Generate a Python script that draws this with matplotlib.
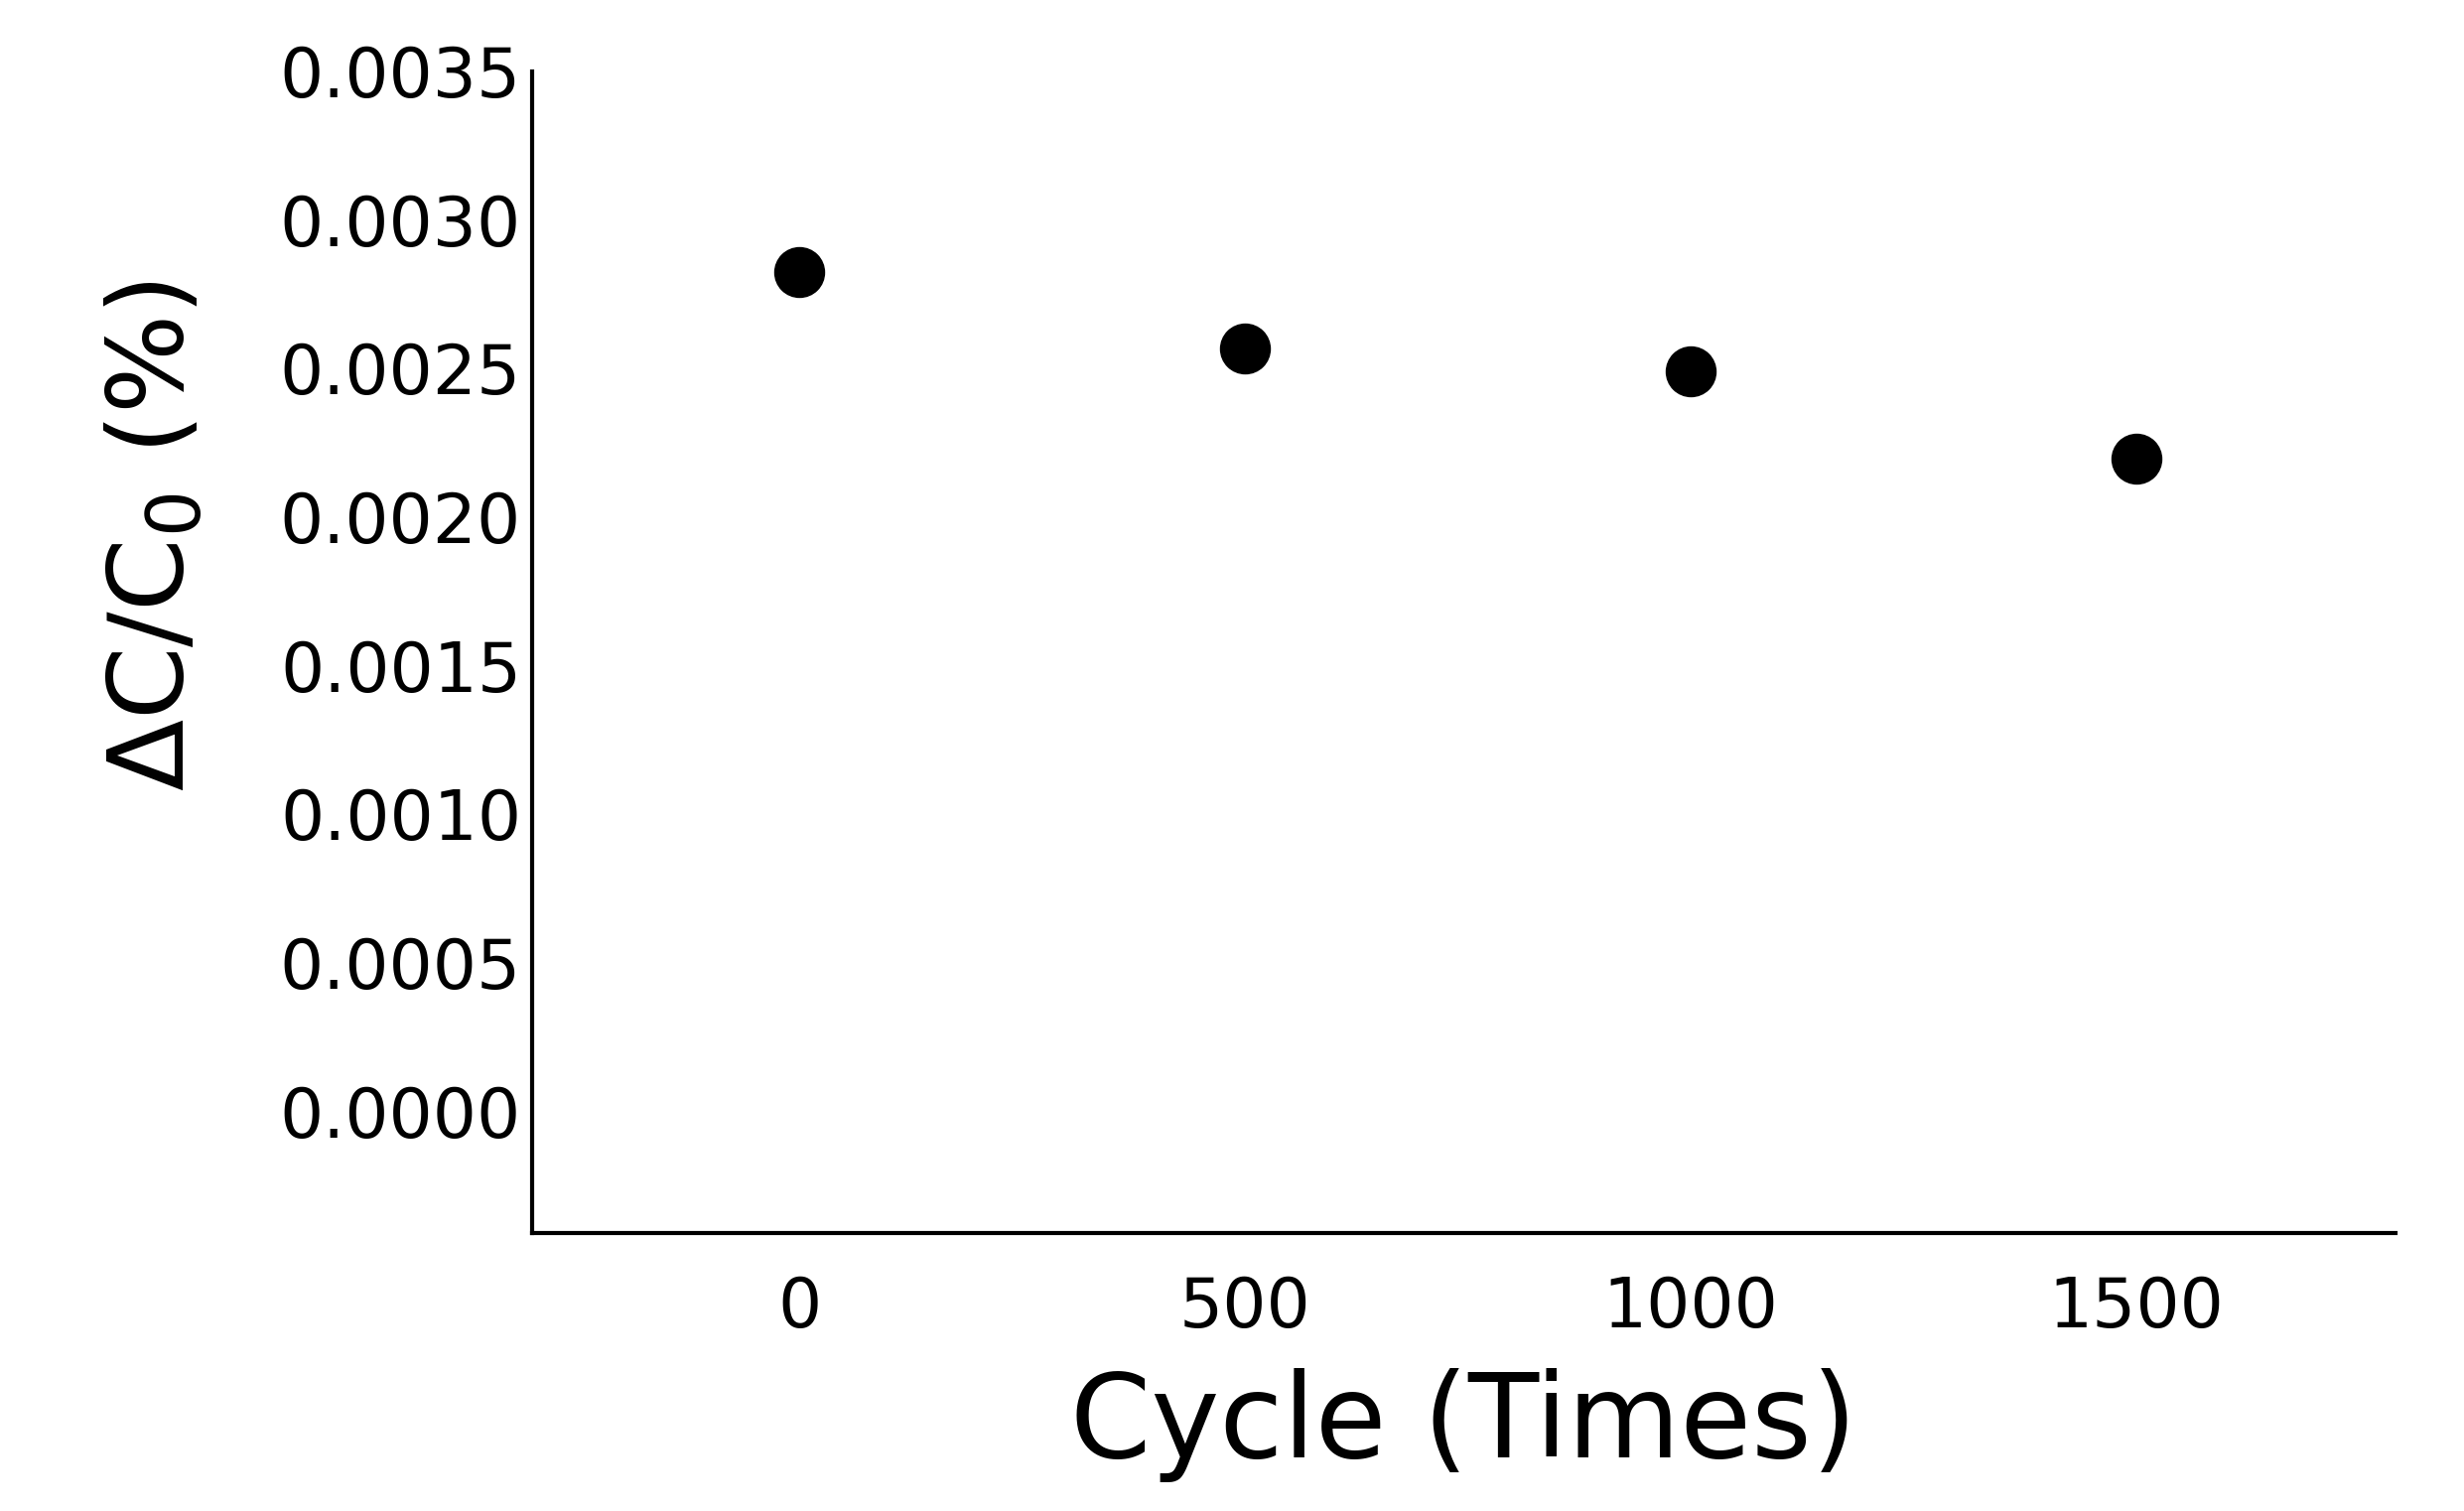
import matplotlib
matplotlib.use('Agg')
import matplotlib.pyplot as plt

cycles = [0, 500, 1000, 1500]
dc_c0 = [0.002825, 0.002566, 0.00249, 0.002196]
yticks = [0.0, 0.0005, 0.0010, 0.0015, 0.0020, 0.0025, 0.0030, 0.0035]
xticks = [0, 500, 1000, 1500]

plt.rcParams['font.family'] = ['DejaVu Sans']

fig = plt.figure(figsize=(24.82, 15.22), dpi=100, facecolor='white')
ax = fig.add_axes([0.216, 0.184, 0.756, 0.769])
ax.plot(cycles, dc_c0, 'o', color='black', markersize=36, linestyle='none')

ax.set_xlim(-300, 1790)
ax.set_ylim(-0.00041, 0.0035)
ax.set_xticks(xticks)
ax.set_xticklabels([str(t) for t in xticks])
ax.set_yticks(yticks)
ax.set_yticklabels([f'{t:.4f}' for t in yticks])
ax.tick_params(axis='y', length=0, labelsize=50, pad=8)
ax.tick_params(axis='x', length=0, labelsize=50, pad=30)
for s in ['top', 'right']:
    ax.spines[s].set_visible(False)
for s in ['left', 'bottom']:
    ax.spines[s].set_linewidth(3)

ax.set_xlabel('Cycle (Times)', fontsize=84, labelpad=20)
ax.set_ylabel(r'$\Delta$C/C$_0$ (%)', fontsize=76)
ax.yaxis.set_label_coords(-0.175, 0.60)

fig.savefig('out.png', dpi=100, facecolor='white')
